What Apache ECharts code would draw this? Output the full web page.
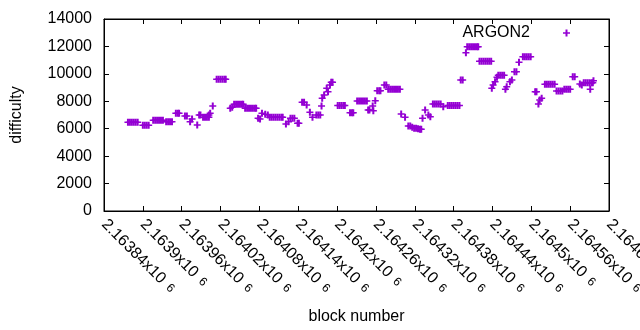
<!DOCTYPE html>
<html>
<head>
<meta charset="utf-8">
<script src="https://cdn.jsdelivr.net/npm/echarts@6/dist/echarts.min.js"></script>
<style>
  html, body { margin: 0; padding: 0; background: #fff; }
  #chart { width: 640px; height: 330px; background: #fff; }
</style>
</head>
<body>
<div id="chart"></div>
<script>
// ARGON2 blocks: [block number, difficulty]
var argon2Points = [
  [2163877, 6470], [2163880, 6470], [2163883, 6470], [2163886, 6470], [2163889, 6470], [2163892, 6470],
  [2163900, 6250], [2163903, 6250], [2163906, 6250], [2163909, 6250],
  [2163916, 6610], [2163919, 6610], [2163922, 6610], [2163925, 6610], [2163928, 6610], [2163931, 6610],
  [2163936, 6510], [2163939, 6510], [2163942, 6510], [2163945, 6510],
  [2163951, 7120], [2163954, 7120], [2163956, 7120],
  [2163965, 6930], [2163968, 6930],
  [2163973, 6510], [2163976, 6710], [2163984, 6270],
  [2163987, 7000], [2163989, 7000],
  [2163993, 6830], [2163996, 6830], [2163999, 6830], [2164002, 6830], [2164002, 7000], [2164004, 7120],
  [2164008, 7660],
  [2164014, 9600], [2164017, 9600], [2164020, 9600], [2164023, 9600], [2164026, 9600], [2164028, 9600],
  [2164035, 7490], [2164038, 7560],
  [2164041, 7780], [2164044, 7780], [2164047, 7780], [2164050, 7780], [2164053, 7780], [2164055, 7780],
  [2164058, 7490], [2164061, 7490], [2164064, 7490], [2164067, 7490], [2164070, 7490], [2164073, 7490], [2164075, 7490],
  [2164078, 6760], [2164081, 6710],
  [2164084, 7120], [2164089, 7060], [2164093, 7000],
  [2164096, 6830], [2164099, 6830], [2164102, 6830], [2164105, 6830], [2164108, 6830], [2164111, 6830], [2164114, 6830], [2164116, 6830],
  [2164121, 6340], [2164125, 6510],
  [2164128, 6760], [2164131, 6760], [2164134, 6760],
  [2164139, 6390], [2164141, 6390],
  [2164146, 7930], [2164149, 7930],
  [2164153, 7730],
  [2164158, 7200], [2164162, 6830],
  [2164168, 7000], [2164171, 7000], [2164174, 7000],
  [2164176, 7660], [2164177, 8220],
  [2164180, 8460], [2164184, 8950], [2164186, 8700], [2164189, 9190],
  [2164191, 9390], [2164193, 9390],
  [2164201, 7700], [2164204, 7700], [2164207, 7700], [2164210, 7700], [2164212, 7700],
  [2164220, 7170], [2164223, 7170], [2164225, 7170],
  [2164231, 8020], [2164234, 8020], [2164237, 8020], [2164240, 8020], [2164243, 8020], [2164246, 8020],
  [2164248, 7365], [2164250, 7365],
  [2164255, 7660], [2164256, 7310], [2164259, 8040],
  [2164262, 8770], [2164265, 8770], [2164267, 8770],
  [2164273, 9190], [2164276, 9190],
  [2164279, 8870], [2164282, 8870], [2164285, 8870], [2164288, 8870], [2164291, 8870], [2164294, 8870], [2164297, 8870],
  [2164299, 7070], [2164305, 6830],
  [2164310, 6200], [2164313, 6200], [2164316, 6100], [2164319, 6030], [2164322, 6030], [2164325, 6000], [2164328, 5960], [2164330, 5960],
  [2164332, 6760],
  [2164336, 7365], [2164341, 7000], [2164344, 6880],
  [2164348, 7800], [2164351, 7800], [2164354, 7800], [2164357, 7800], [2164360, 7800],
  [2164364, 7610],
  [2164371, 7700], [2164374, 7700], [2164377, 7700], [2164380, 7700], [2164383, 7700], [2164386, 7700], [2164389, 7700],
  [2164391, 9550], [2164394, 9550],
  [2164399, 11540],
  [2164401, 11980], [2164404, 11980], [2164407, 11980], [2164410, 11980], [2164413, 11980], [2164416, 11980], [2164418, 11980],
  [2164420, 10920], [2164423, 10920], [2164426, 10920], [2164429, 10920], [2164432, 10920], [2164435, 10920], [2164438, 10920],
  [2164439, 8950], [2164441, 9190], [2164444, 9430], [2164447, 9750],
  [2164449, 9900], [2164452, 9900], [2164455, 9900], [2164458, 9900],
  [2164460, 8870], [2164462, 9060], [2164467, 9430], [2164470, 9550],
  [2164474, 10160], [2164477, 10160],
  [2164481, 10840],
  [2164487, 11250], [2164490, 11250], [2164493, 11250], [2164496, 11250], [2164499, 11250],
  [2164506, 8700], [2164508, 8700],
  [2164511, 7800], [2164513, 8090], [2164516, 8220],
  [2164521, 9240], [2164524, 9240], [2164527, 9240], [2164530, 9240], [2164533, 9240], [2164536, 9240],
  [2164539, 8750], [2164542, 8750], [2164545, 8750], [2164548, 8750],
  [2164551, 8870], [2164554, 8870], [2164557, 8870], [2164560, 8870],
  [2164564, 9790], [2164567, 9790],
  [2164575, 9260], [2164578, 9190],
  [2164581, 9360], [2164584, 9360], [2164587, 9360], [2164590, 9360], [2164593, 9360], [2164595, 9360],
  [2164591, 8870], [2164596, 9500]
];
// x tick labels (mantissa of the block number, times 10^6)
var xTickLabels = ['2.16384', '2.1639', '2.16396', '2.16402', '2.16408', '2.16414', '2.1642',
  '2.16426', '2.16432', '2.16438', '2.16444', '2.1645', '2.16456', '2.16462'];
var X_MIN = 2163840, X_MAX = 2164620, X_STEP = 60;
var Y_MAX = 14000, Y_STEP = 2000;

// gnuplot style "+" point
var PLUS = 'path://M0,2.75H7V4.25H0Z M2.5,0H4.5V7H2.5Z';
var FONT = 'Liberation Sans';
var chart = echarts.init(document.getElementById('chart'));

var option = {
  animation: false,
  grid: {
    left: 104, right: 31, top: 19, bottom: 119,
    outerBoundsMode: 'none',
    show: true, borderColor: '#000', borderWidth: 1
  },
  legend: {
    right: 65, top: 20,
    align: 'right',
    itemWidth: 7, itemHeight: 7,
    icon: PLUS,
    textStyle: { fontFamily: FONT, fontSize: 16, color: '#000', padding: [0, 28, 0, 0] },
    data: ['ARGON2']
  },
  xAxis: [
    {
      type: 'value', position: 'bottom',
      min: X_MIN, max: X_MAX, interval: X_STEP,
      axisLine: { onZero: false, lineStyle: { color: '#000' } },
      axisTick: { show: true, inside: true, length: 5, lineStyle: { color: '#000' } },
      splitLine: { show: false },
      name: 'block number', nameLocation: 'middle', nameGap: 98,
      nameTextStyle: { fontFamily: FONT, fontSize: 16, color: '#000' },
      axisLabel: {
        rotate: -45, margin: 11, color: '#000',
        fontFamily: FONT, fontSize: 16,
        formatter: function (v) {
          var i = Math.round((v - X_MIN) / X_STEP);
          return '{m|' + xTickLabels[i] + 'x10}{s|  6}';
        },
        rich: {
          m: { fontFamily: FONT, fontSize: 16, color: '#000' },
          s: { fontFamily: FONT, fontSize: 12, color: '#000' }
        }
      }
    },
    {
      type: 'value', position: 'top',
      min: X_MIN, max: X_MAX, interval: X_STEP,
      axisLine: { show: true, onZero: false, lineStyle: { color: '#000' } },
      axisTick: { show: true, inside: true, length: 5, lineStyle: { color: '#000' } },
      axisLabel: { formatter: function () { return ''; } },
      splitLine: { show: false }
    }
  ],
  yAxis: [
    {
      type: 'value', position: 'left',
      min: 0, max: Y_MAX, interval: Y_STEP,
      axisLine: { show: true, onZero: false, lineStyle: { color: '#000' } },
      axisTick: { show: true, inside: true, length: 5, lineStyle: { color: '#000' } },
      splitLine: { show: false },
      name: 'difficulty', nameLocation: 'middle', nameGap: 79,
      nameTextStyle: { fontFamily: FONT, fontSize: 16, color: '#000' },
      axisLabel: {
        margin: 12, color: '#000', fontFamily: FONT, fontSize: 16,
        formatter: function (v) { return String(v); }
      }
    },
    {
      type: 'value', position: 'right',
      min: 0, max: Y_MAX, interval: Y_STEP,
      axisLine: { show: true, onZero: false, lineStyle: { color: '#000' } },
      axisTick: { show: true, inside: true, length: 5, lineStyle: { color: '#000' } },
      axisLabel: { formatter: function () { return ''; } },
      splitLine: { show: false }
    }
  ],
  series: [{
    name: 'ARGON2',
    type: 'scatter',
    xAxisIndex: 0, yAxisIndex: 0,
    symbol: PLUS,
    symbolSize: 7,
    itemStyle: { color: '#9400d3', opacity: 1 },
    // top and right edges of the frame, placed through the axes' own scales
    markLine: {
      silent: true,
      symbol: ['none', 'none'],
      label: { show: false },
      lineStyle: { color: '#000', width: 1, type: 'solid' },
      data: [{ yAxis: Y_MAX }, { xAxis: X_MAX }]
    },
    data: argon2Points
  }]
};
chart.setOption(option);
</script>
</body>
</html>
